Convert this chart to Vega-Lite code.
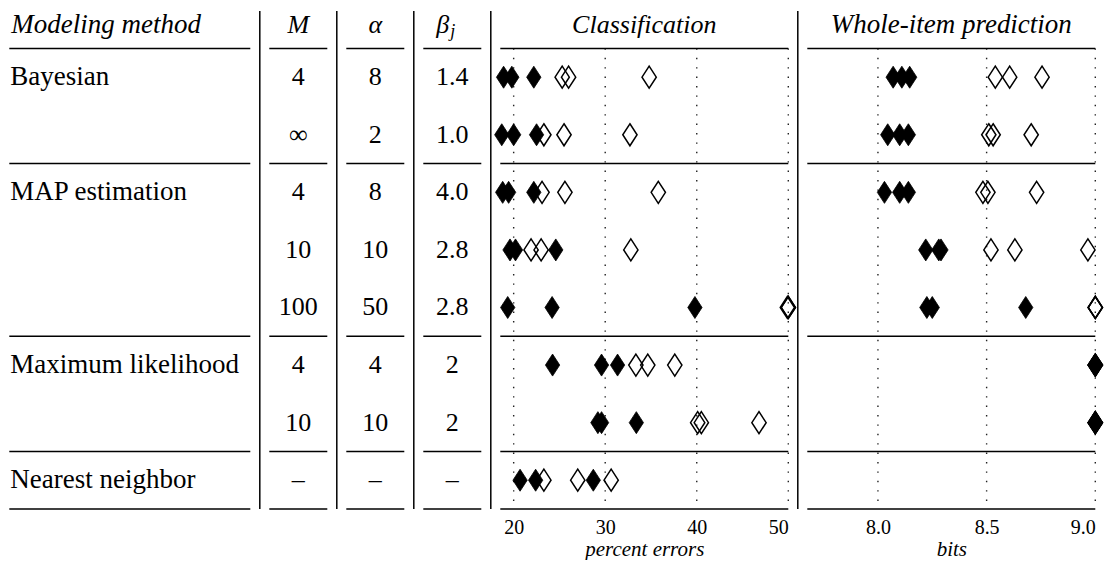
{
  "$schema": "https://vega.github.io/schema/vega-lite/v6.json",
  "padding": {"left": 8.3, "top": 10, "right": 0, "bottom": 0},
  "background": "white",
  "spacing": 19,
  "bounds": "flush",
  "config": {"view": {"stroke": null}, "font": "'Liberation Serif', 'DejaVu Serif', serif", "axisY": {"disable": true}},
  "datasets": {
    "table": [
      {"k": 0, "method": "Bayesian", "M": "4", "alpha": "8", "beta": "1.4"},
      {"k": 1, "method": "", "M": "∞", "alpha": "2", "beta": "1.0"},
      {"k": 2, "method": "MAP estimation", "M": "4", "alpha": "8", "beta": "4.0"},
      {"k": 3, "method": "", "M": "10", "alpha": "10", "beta": "2.8"},
      {"k": 4, "method": "", "M": "100", "alpha": "50", "beta": "2.8"},
      {"k": 5, "method": "Maximum likelihood", "M": "4", "alpha": "4", "beta": "2"},
      {"k": 6, "method": "", "M": "10", "alpha": "10", "beta": "2"},
      {"k": 7, "method": "Nearest neighbor", "M": "–", "alpha": "–", "beta": "–"}
    ],
    "hlines": [{"k": -0.5}, {"k": 1.5}, {"k": 4.5}, {"k": 6.5}, {"k": 7.5}],
    "cls": [
      {"k": 0, "v": 18.9, "f": "filled"}, {"k": 0, "v": 19.8, "f": "filled"}, {"k": 0, "v": 22.2, "f": "filled"},
      {"k": 0, "v": 25.3, "f": "open"}, {"k": 0, "v": 26.0, "f": "open"}, {"k": 0, "v": 34.8, "f": "open"},
      {"k": 1, "v": 18.7, "f": "filled"}, {"k": 1, "v": 20.0, "f": "filled"}, {"k": 1, "v": 22.5, "f": "filled"},
      {"k": 1, "v": 23.3, "f": "open"}, {"k": 1, "v": 25.5, "f": "open"}, {"k": 1, "v": 32.7, "f": "open"},
      {"k": 2, "v": 18.8, "f": "filled"}, {"k": 2, "v": 19.45, "f": "filled"}, {"k": 2, "v": 22.2, "f": "filled"},
      {"k": 2, "v": 23.1, "f": "open"}, {"k": 2, "v": 25.6, "f": "open"}, {"k": 2, "v": 35.8, "f": "open"},
      {"k": 3, "v": 19.6, "f": "filled"}, {"k": 3, "v": 20.2, "f": "filled"}, {"k": 3, "v": 24.6, "f": "filled"},
      {"k": 3, "v": 21.9, "f": "open"}, {"k": 3, "v": 23.0, "f": "open"}, {"k": 3, "v": 32.8, "f": "open"},
      {"k": 4, "v": 19.35, "f": "filled"}, {"k": 4, "v": 24.2, "f": "filled"}, {"k": 4, "v": 39.8, "f": "filled"},
      {"k": 4, "v": 49.9, "f": "open"}, {"k": 4, "v": 50.0, "f": "open"}, {"k": 4, "v": 50.0, "f": "open"},
      {"k": 5, "v": 24.25, "f": "filled"}, {"k": 5, "v": 29.6, "f": "filled"}, {"k": 5, "v": 31.35, "f": "filled"},
      {"k": 5, "v": 33.35, "f": "open"}, {"k": 5, "v": 34.65, "f": "open"}, {"k": 5, "v": 37.6, "f": "open"},
      {"k": 6, "v": 29.2, "f": "filled"}, {"k": 6, "v": 29.6, "f": "filled"}, {"k": 6, "v": 33.4, "f": "filled"},
      {"k": 6, "v": 40.1, "f": "open"}, {"k": 6, "v": 40.5, "f": "open"}, {"k": 6, "v": 46.8, "f": "open"},
      {"k": 7, "v": 20.7, "f": "filled"}, {"k": 7, "v": 22.4, "f": "filled"}, {"k": 7, "v": 28.7, "f": "filled"},
      {"k": 7, "v": 23.3, "f": "open"}, {"k": 7, "v": 27.0, "f": "open"}, {"k": 7, "v": 30.65, "f": "open"}
    ],
    "wip": [
      {"k": 0, "v": 8.07, "f": "filled"}, {"k": 0, "v": 8.11, "f": "filled"}, {"k": 0, "v": 8.146, "f": "filled"},
      {"k": 0, "v": 8.54, "f": "open"}, {"k": 0, "v": 8.606, "f": "open"}, {"k": 0, "v": 8.755, "f": "open"},
      {"k": 1, "v": 8.045, "f": "filled"}, {"k": 1, "v": 8.1, "f": "filled"}, {"k": 1, "v": 8.14, "f": "filled"},
      {"k": 1, "v": 8.51, "f": "open"}, {"k": 1, "v": 8.53, "f": "open"}, {"k": 1, "v": 8.705, "f": "open"},
      {"k": 2, "v": 8.03, "f": "filled"}, {"k": 2, "v": 8.1, "f": "filled"}, {"k": 2, "v": 8.14, "f": "filled"},
      {"k": 2, "v": 8.483, "f": "open"}, {"k": 2, "v": 8.506, "f": "open"}, {"k": 2, "v": 8.73, "f": "open"},
      {"k": 3, "v": 8.22, "f": "filled"}, {"k": 3, "v": 8.28, "f": "filled"}, {"k": 3, "v": 8.29, "f": "filled"},
      {"k": 3, "v": 8.52, "f": "open"}, {"k": 3, "v": 8.63, "f": "open"}, {"k": 3, "v": 8.966, "f": "open"},
      {"k": 4, "v": 8.225, "f": "filled"}, {"k": 4, "v": 8.25, "f": "filled"}, {"k": 4, "v": 8.68, "f": "filled"},
      {"k": 4, "v": 9.0, "f": "open"}, {"k": 4, "v": 9.0, "f": "open"}, {"k": 4, "v": 9.0, "f": "open"},
      {"k": 5, "v": 9.0, "f": "filled"}, {"k": 5, "v": 9.0, "f": "filled"}, {"k": 5, "v": 9.0, "f": "filled"},
      {"k": 5, "v": 9.0, "f": "open"}, {"k": 5, "v": 9.0, "f": "open"}, {"k": 5, "v": 9.0, "f": "open"},
      {"k": 6, "v": 9.0, "f": "filled"}, {"k": 6, "v": 9.0, "f": "filled"}, {"k": 6, "v": 9.0, "f": "filled"},
      {"k": 6, "v": 9.0, "f": "open"}, {"k": 6, "v": 9.0, "f": "open"}, {"k": 6, "v": 9.0, "f": "open"}
    ]
  },
  "hconcat": [
    {
      "width": 241, "height": 498,
      "layer": [
        {"data": {"name": "hlines"}, "mark": {"type": "rule", "strokeWidth": 1.5, "color": "black"},
         "encoding": {"y": {"field": "k", "type": "quantitative", "scale": {"domain": [-1.15, 7.5], "reverse": true, "nice": false, "zero": false}, "axis": null},
                      "x": {"datum": 0, "type": "quantitative", "scale": {"domain": [0, 1], "nice": false}, "axis": null}, "x2": {"datum": 1}}},
        {"data": {"name": "table"}, "mark": {"type": "text", "fontSize": 27, "baseline": "middle", "align": "left", "dx": 1, "color": "black"},
         "encoding": {"y": {"field": "k", "type": "quantitative", "axis": null}, "x": {"datum": 0, "type": "quantitative", "axis": null}, "text": {"field": "method"}}},
        {"data": {"values": [{"k": -0.9, "t": "Modeling method"}]}, "mark": {"type": "text", "fontSize": 27, "fontStyle": "italic", "baseline": "middle", "align": "left", "dx": 2, "color": "black"},
         "encoding": {"y": {"field": "k", "type": "quantitative", "axis": null}, "x": {"datum": 0, "type": "quantitative", "axis": null}, "text": {"field": "t"}}},
        {"data": {"values": [{"s": 1}]}, "mark": {"type": "rule", "strokeWidth": 1.5, "color": "black", "xOffset": 9.5},
         "encoding": {"x": {"datum": 1, "type": "quantitative", "axis": null}, "y": {"datum": -1.15, "type": "quantitative", "axis": null}, "y2": {"datum": 7.5}}}
      ]
    },
    {
      "width": 58, "height": 498,
      "layer": [
        {"data": {"name": "hlines"}, "mark": {"type": "rule", "strokeWidth": 1.5, "color": "black"},
         "encoding": {"y": {"field": "k", "type": "quantitative", "scale": {"domain": [-1.15, 7.5], "reverse": true, "nice": false, "zero": false}, "axis": null},
                      "x": {"datum": 0, "type": "quantitative", "scale": {"domain": [0, 1], "nice": false}, "axis": null}, "x2": {"datum": 1}}},
        {"data": {"name": "table"}, "mark": {"type": "text", "fontSize": 26, "baseline": "middle", "align": "center", "color": "black"},
         "encoding": {"y": {"field": "k", "type": "quantitative", "axis": null}, "x": {"datum": 0.5, "type": "quantitative", "axis": null}, "text": {"field": "M"}}},
        {"data": {"values": [{"k": -0.9, "t": "M"}]}, "mark": {"type": "text", "fontSize": 26, "fontStyle": "italic", "baseline": "middle", "align": "center", "color": "black"},
         "encoding": {"y": {"field": "k", "type": "quantitative", "axis": null}, "x": {"datum": 0.5, "type": "quantitative", "axis": null}, "text": {"field": "t"}}},
        {"data": {"values": [{"s": 1}]}, "mark": {"type": "rule", "strokeWidth": 1.5, "color": "black", "xOffset": 9.5},
         "encoding": {"x": {"datum": 1, "type": "quantitative", "axis": null}, "y": {"datum": -1.15, "type": "quantitative", "axis": null}, "y2": {"datum": 7.5}}}
      ]
    },
    {
      "width": 58, "height": 498,
      "layer": [
        {"data": {"name": "hlines"}, "mark": {"type": "rule", "strokeWidth": 1.5, "color": "black"},
         "encoding": {"y": {"field": "k", "type": "quantitative", "scale": {"domain": [-1.15, 7.5], "reverse": true, "nice": false, "zero": false}, "axis": null},
                      "x": {"datum": 0, "type": "quantitative", "scale": {"domain": [0, 1], "nice": false}, "axis": null}, "x2": {"datum": 1}}},
        {"data": {"name": "table"}, "mark": {"type": "text", "fontSize": 26, "baseline": "middle", "align": "center", "color": "black"},
         "encoding": {"y": {"field": "k", "type": "quantitative", "axis": null}, "x": {"datum": 0.5, "type": "quantitative", "axis": null}, "text": {"field": "alpha"}}},
        {"data": {"values": [{"k": -0.9, "t": "α"}]}, "mark": {"type": "text", "fontSize": 26, "fontStyle": "italic", "baseline": "middle", "align": "center", "color": "black"},
         "encoding": {"y": {"field": "k", "type": "quantitative", "axis": null}, "x": {"datum": 0.5, "type": "quantitative", "axis": null}, "text": {"field": "t"}}},
        {"data": {"values": [{"s": 1}]}, "mark": {"type": "rule", "strokeWidth": 1.5, "color": "black", "xOffset": 9.5},
         "encoding": {"x": {"datum": 1, "type": "quantitative", "axis": null}, "y": {"datum": -1.15, "type": "quantitative", "axis": null}, "y2": {"datum": 7.5}}}
      ]
    },
    {
      "width": 58, "height": 498,
      "layer": [
        {"data": {"name": "hlines"}, "mark": {"type": "rule", "strokeWidth": 1.5, "color": "black"},
         "encoding": {"y": {"field": "k", "type": "quantitative", "scale": {"domain": [-1.15, 7.5], "reverse": true, "nice": false, "zero": false}, "axis": null},
                      "x": {"datum": 0, "type": "quantitative", "scale": {"domain": [0, 1], "nice": false}, "axis": null}, "x2": {"datum": 1}}},
        {"data": {"name": "table"}, "mark": {"type": "text", "fontSize": 26, "baseline": "middle", "align": "center", "color": "black"},
         "encoding": {"y": {"field": "k", "type": "quantitative", "axis": null}, "x": {"datum": 0.5, "type": "quantitative", "axis": null}, "text": {"field": "beta"}}},
        {"data": {"values": [{"k": -0.9, "t": "β"}]}, "mark": {"type": "text", "fontSize": 26, "fontStyle": "italic", "baseline": "middle", "align": "right", "dx": -3, "color": "black"},
         "encoding": {"y": {"field": "k", "type": "quantitative", "axis": null}, "x": {"datum": 0.5, "type": "quantitative", "axis": null}, "text": {"field": "t"}}},
        {"data": {"values": [{"k": -0.9, "t": "j"}]}, "mark": {"type": "text", "fontSize": 18, "fontStyle": "italic", "baseline": "middle", "align": "left", "dx": -2, "dy": 7, "color": "black"},
         "encoding": {"y": {"field": "k", "type": "quantitative", "axis": null}, "x": {"datum": 0.5, "type": "quantitative", "axis": null}, "text": {"field": "t"}}},
        {"data": {"values": [{"s": 1}]}, "mark": {"type": "rule", "strokeWidth": 1.5, "color": "black", "xOffset": 9.5},
         "encoding": {"x": {"datum": 1, "type": "quantitative", "axis": null}, "y": {"datum": -1.15, "type": "quantitative", "axis": null}, "y2": {"datum": 7.5}}}
      ]
    },
    {
      "width": 288, "height": 498,
      "layer": [
        {"data": {"values": [{"t": 20}, {"t": 30}, {"t": 40}, {"t": 50}]}, "mark": {"type": "rule", "strokeWidth": 1.4, "color": "#222", "strokeDash": [1.4, 8]},
         "encoding": {"x": {"field": "t", "type": "quantitative", "scale": {"domain": [18.54, 50], "nice": false, "zero": false}},
                      "y": {"datum": -0.5, "type": "quantitative", "scale": {"domain": [-1.15, 7.5], "reverse": true, "nice": false, "zero": false}, "axis": null}, "y2": {"datum": 7.5}}},
        {"data": {"name": "hlines"}, "mark": {"type": "rule", "strokeWidth": 1.5, "color": "black"},
         "encoding": {"y": {"field": "k", "type": "quantitative", "axis": null},
                      "x": {"datum": 18.54, "type": "quantitative"}, "x2": {"datum": 50}}},
        {"data": {"name": "cls"}, "transform": [{"filter": "datum.f == 'open'"}],
         "mark": {"type": "point", "shape": "M0,-1L0.65,0L0,1L-0.65,0Z", "size": 484, "filled": false, "stroke": "black", "strokeWidth": 1.5, "opacity": 1},
         "encoding": {"x": {"field": "v", "type": "quantitative",
                            "axis": {"values": [20, 30, 40, 50], "format": "d", "title": "percent errors", "grid": false, "domain": false, "ticks": false,
                                     "labelFont": "'Liberation Serif', 'DejaVu Serif', serif", "labelFontSize": 20, "labelColor": "black", "labelPadding": 9,
                                     "titleFont": "'Liberation Serif', 'DejaVu Serif', serif", "titleFontSize": 21, "titleFontStyle": "italic", "titleFontWeight": "normal", "titleColor": "black", "titlePadding": 1}},
                      "y": {"field": "k", "type": "quantitative", "axis": null}}},
        {"data": {"name": "cls"}, "transform": [{"filter": "datum.f == 'filled'"}],
         "mark": {"type": "point", "shape": "M0,-1L0.65,0L0,1L-0.65,0Z", "size": 484, "filled": true, "color": "black", "strokeWidth": 0.8, "stroke": "black", "opacity": 1},
         "encoding": {"x": {"field": "v", "type": "quantitative"}, "y": {"field": "k", "type": "quantitative", "axis": null}}},
        {"data": {"values": [{"k": -0.9, "t": "Classification"}]}, "mark": {"type": "text", "fontSize": 26, "fontStyle": "italic", "baseline": "middle", "align": "center", "color": "black"},
         "encoding": {"y": {"field": "k", "type": "quantitative", "axis": null}, "text": {"field": "t"}}},
        {"data": {"values": [{"s": 1}]}, "mark": {"type": "rule", "strokeWidth": 1.5, "color": "black", "xOffset": 9.5},
         "encoding": {"x": {"datum": 50, "type": "quantitative"}, "y": {"datum": -1.15, "type": "quantitative", "axis": null}, "y2": {"datum": 7.5}}}
      ]
    },
    {
      "width": 288, "height": 498,
      "layer": [
        {"data": {"values": [{"t": 8.0}, {"t": 8.5}, {"t": 9.0}]}, "mark": {"type": "rule", "strokeWidth": 1.4, "color": "#222", "strokeDash": [1.4, 8]},
         "encoding": {"x": {"field": "t", "type": "quantitative", "scale": {"domain": [7.675, 9.0], "nice": false, "zero": false}},
                      "y": {"datum": -0.5, "type": "quantitative", "scale": {"domain": [-1.15, 7.5], "reverse": true, "nice": false, "zero": false}, "axis": null}, "y2": {"datum": 7.5}}},
        {"data": {"name": "hlines"}, "mark": {"type": "rule", "strokeWidth": 1.5, "color": "black"},
         "encoding": {"y": {"field": "k", "type": "quantitative", "axis": null},
                      "x": {"datum": 7.675, "type": "quantitative"}, "x2": {"datum": 9.0}}},
        {"data": {"name": "wip"}, "transform": [{"filter": "datum.f == 'open'"}],
         "mark": {"type": "point", "shape": "M0,-1L0.65,0L0,1L-0.65,0Z", "size": 484, "filled": false, "stroke": "black", "strokeWidth": 1.5, "opacity": 1},
         "encoding": {"x": {"field": "v", "type": "quantitative",
                            "axis": {"values": [8.0, 8.5, 9.0], "format": ".1f", "title": "bits", "grid": false, "domain": false, "ticks": false,
                                     "labelFont": "'Liberation Serif', 'DejaVu Serif', serif", "labelFontSize": 20, "labelColor": "black", "labelPadding": 9,
                                     "titleFont": "'Liberation Serif', 'DejaVu Serif', serif", "titleFontSize": 21, "titleFontStyle": "italic", "titleFontWeight": "normal", "titleColor": "black", "titlePadding": 1}},
                      "y": {"field": "k", "type": "quantitative", "axis": null}}},
        {"data": {"name": "wip"}, "transform": [{"filter": "datum.f == 'filled'"}],
         "mark": {"type": "point", "shape": "M0,-1L0.65,0L0,1L-0.65,0Z", "size": 484, "filled": true, "color": "black", "strokeWidth": 0.8, "stroke": "black", "opacity": 1},
         "encoding": {"x": {"field": "v", "type": "quantitative"}, "y": {"field": "k", "type": "quantitative", "axis": null}}},
        {"data": {"values": [{"k": -0.9, "t": "Whole-item prediction"}]}, "mark": {"type": "text", "fontSize": 27, "fontStyle": "italic", "baseline": "middle", "align": "center", "color": "black"},
         "encoding": {"y": {"field": "k", "type": "quantitative", "axis": null}, "text": {"field": "t"}}}
      ]
    }
  ]
}
